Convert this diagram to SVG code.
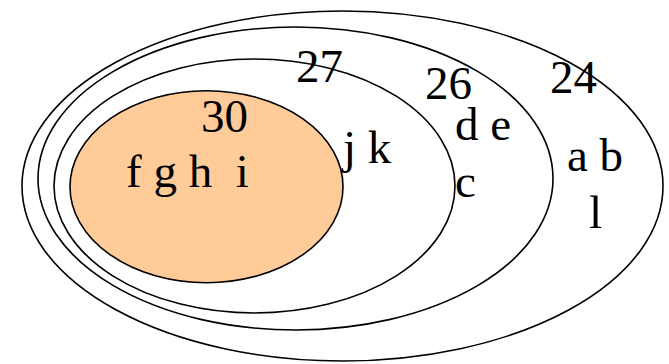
<svg xmlns="http://www.w3.org/2000/svg" width="669" height="364" viewBox="0 0 669 364">
<style>
.set{fill:none;stroke:#000;stroke-width:1.6}
.lbl{font-family:"Liberation Serif","Times New Roman",serif;font-size:47px;fill:#000;white-space:pre}
</style>
<rect width="669" height="364" fill="#fff"/>
<g id="set24"><ellipse class="set" cx="342.5" cy="186" rx="320.5" ry="175"/></g>
<g id="set26"><ellipse class="set" cx="295.5" cy="178.5" rx="257.5" ry="151.5"/></g>
<g id="set27"><ellipse class="set" cx="254.5" cy="186" rx="200.5" ry="127"/></g>
<g id="set30"><ellipse cx="206.5" cy="186.7" rx="136.5" ry="96" fill="#FFCC99" stroke="#000" stroke-width="1.6"/></g>
<g id="labels">
<text class="lbl" x="550" y="93">24</text><text class="lbl" x="567" y="171">a b</text><text class="lbl" x="589" y="228">l</text>
<text class="lbl" x="425" y="99">26</text><text class="lbl" x="455" y="140">d e</text><text class="lbl" x="455" y="197">c</text>
<text class="lbl" x="296" y="82">27</text><text class="lbl" x="343" y="163">j k</text>
<text class="lbl" x="201" y="132">30</text><text class="lbl" x="126" y="187">f g h  i</text>
</g>
</svg>
